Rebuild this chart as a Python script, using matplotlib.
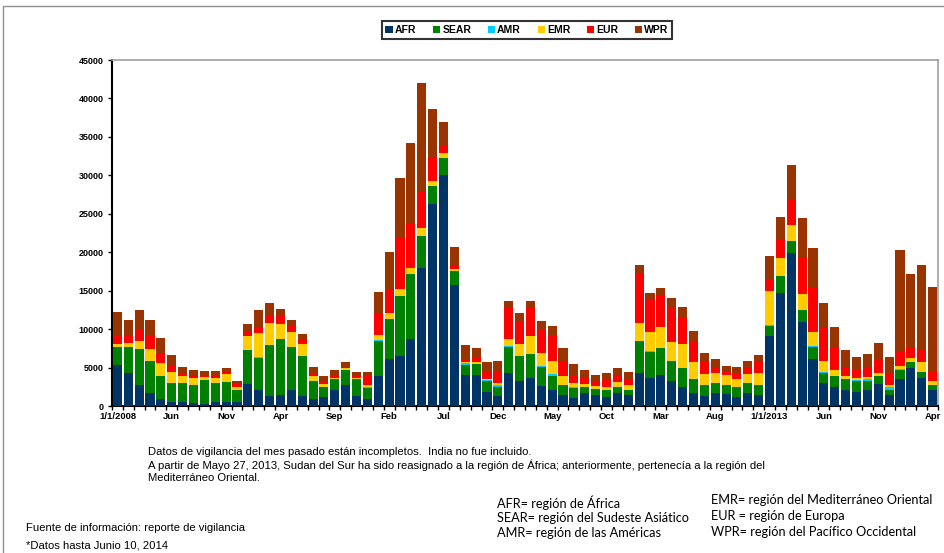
import matplotlib
matplotlib.use("Agg")
import matplotlib.pyplot as plt
import numpy as np
from matplotlib.patches import Patch, Rectangle
from matplotlib.ticker import FixedLocator

plt.rcParams["font.family"] = ["Liberation Sans", "DejaVu Sans"]

# monthly counts, Jan 2008 .. Apr 2014
afr = [5300, 4300, 2700, 1650, 860, 560, 560, 350, 260, 560, 560, 560,
       2900, 2070, 1320, 1470, 2070, 1320, 860, 1170, 2070, 2700, 1300, 870,
       3900, 6070, 6540, 8710, 17980, 26220, 30030, 15730, 4080, 4030, 1860, 1300,
       4250, 3250, 3680, 2640, 2080, 1430, 1080, 1650, 1430, 1130, 1650, 1430,
       4250, 3680, 4030, 3250, 2510, 1650, 1300, 1650, 1520, 1130, 1730, 1430,
       9100, 14730, 19930, 10880, 6100, 2950, 2510, 2080, 1860, 2080, 2860, 1430,
       3470, 4900, 3680, 2080]
sear = [2400, 3370, 4750, 4200, 3020, 2370, 2370, 2370, 3100, 2370, 2590, 1510,
        4400, 4220, 6570, 7190, 5600, 5150, 2420, 1240, 1420, 2000, 2170, 1430,
        4600, 5240, 7800, 8410, 4160, 2380, 2170, 1820, 1250, 1430, 1430, 1210,
        3460, 3250, 3030, 2470, 1860, 1300, 1220, 780, 740, 950, 780, 650,
        4240, 3390, 3470, 2640, 2390, 1820, 1430, 1300, 1210, 1300, 1220, 1300,
        1350, 2170, 1560, 1600, 1620, 1300, 1390, 1390, 1430, 1210, 1040, 650,
        1210, 780, 780, 650]
amr = [20, 20, 20, 20, 20, 20, 20, 20, 20, 20, 20, 20,
       20, 20, 20, 20, 20, 20, 20, 20, 20, 20, 50, 200,
       30, 30, 30, 30, 30, 30, 30, 30, 220, 30, 30, 220,
       30, 30, 30, 30, 220, 30, 210, 20, 20, 20, 20, 20,
       20, 20, 20, 20, 20, 20, 20, 20, 20, 20, 20, 20,
       20, 20, 20, 20, 20, 210, 20, 20, 150, 180, 20, 430,
       130, 20, 20, 20]
emr = [380, 540, 980, 1590, 1750, 1490, 930, 920, 410, 630, 970, 410,
       1780, 3170, 2910, 2010, 1920, 1610, 620, 490, 90, 230, 170, 230,
       700, 790, 800, 830, 930, 620, 620, 230, 210, 270, 190, 300,
       930, 1530, 2360, 1710, 1730, 1140, 440, 410, 410, 410, 620, 630,
       2240, 2580, 2800, 2370, 3140, 2190, 1370, 1360, 1280, 1020, 1150, 1500,
       4480, 2270, 2020, 2020, 1930, 1430, 760, 410, 240, 340, 410, 220,
       430, 580, 1200, 540]
eur = [1050, 870, 1590, 1640, 1250, 860, 430, 350, 220, 430, 300, 430,
       600, 650, 1030, 990, 780, 520, 430, 340, 340, 180, 340, 1300,
       2690, 3040, 6630, 5770, 4760, 2950, 990, 520, 330, 650, 950, 1430,
       4120, 3030, 3690, 3120, 3210, 1950, 1080, 820, 650, 960, 830, 740,
       6580, 4110, 3980, 4510, 3470, 2690, 1640, 790, 430, 690, 900, 1440,
       1560, 2390, 3250, 4810, 5840, 4210, 2820, 1000, 1000, 1300, 1780, 1520,
       1820, 1220, 1600, 1260]
wpr = [3100, 2150, 2460, 2150, 1980, 1380, 780, 730, 520, 520, 520, 300,
       1000, 2370, 1550, 970, 800, 680, 720, 630, 800, 530, 430, 430,
       2860, 4810, 7800, 10480, 14170, 6410, 3040, 2380, 1840, 1090, 1220, 1430,
       900, 1040, 900, 1120, 1340, 1650, 1430, 1000, 780, 780, 1000, 990,
       1000, 950, 1000, 1300, 1390, 1380, 1170, 950, 780, 860, 870, 940,
       3030, 2950, 4550, 5160, 4990, 3250, 2820, 2380, 1650, 1610, 2120, 2080,
       13220, 9620, 11050, 10960]

regions = ["AFR", "SEAR", "AMR", "EMR", "EUR", "WPR"]
colors = ["#003366", "#008000", "#00ccff", "#ffcc00", "#ff0000", "#993300"]
tick_labels = ["1/1/2008", "Jun", "Nov", "Apr", "Sep", "Feb", "Jul", "Dec",
               "May", "Oct", "Mar", "Aug", "1/1/2013", "Jun", "Nov", "Apr"]

series = [afr, sear, amr, emr, eur, wpr]
n = len(afr)
x = np.arange(n)

fig = plt.figure(figsize=(9.45, 5.53), dpi=100)
ax = fig.add_axes([112 / 945, 1 - 406 / 553, 826 / 945, 346 / 553])

bottom = np.zeros(n)
for vals, c in zip(series, colors):
    ax.bar(x, vals, 0.84, bottom=bottom, color=c, linewidth=0, zorder=3)
    bottom += np.array(vals)

ax.set_xlim(-0.5, n - 0.5)
ax.set_ylim(0, 45000)
ax.set_yticks(np.arange(0, 45001, 5000))
ax.set_yticklabels([str(v) for v in range(0, 45001, 5000)],
                   fontsize=6.5, fontweight="bold")
ax.set_xticks(np.arange(0, n, 5))
ax.set_xticklabels(tick_labels, fontsize=6.8, fontweight="bold")
ax.xaxis.set_minor_locator(FixedLocator(np.arange(-0.5, n, 1)))
ax.tick_params(axis="x", which="major", length=0, pad=4)
ax.tick_params(axis="x", which="minor", length=3, width=1, direction="out")
ax.tick_params(axis="y", length=3, width=1, direction="out", pad=3)

for s in ("left", "bottom"):
    ax.spines[s].set_color("black")
    ax.spines[s].set_linewidth(1.5)
for s in ("top", "right"):
    ax.spines[s].set_color("#a0a0a0")
    ax.spines[s].set_linewidth(1.2)

handles = [Patch(facecolor=c, edgecolor="none") for c in colors]
leg = fig.legend(handles, regions, loc="center", bbox_to_anchor=(527 / 945, 1 - 30 / 553),
                 ncol=6, frameon=True, fancybox=False,
                 handlelength=0.7, handleheight=0.7, handletextpad=0.2,
                 columnspacing=1.6, borderpad=0.35, prop={"weight": "bold", "size": 7.5})
leg.get_frame().set_edgecolor("black")
leg.get_frame().set_linewidth(1.5)

# outer chart frame
fig.add_artist(Rectangle((0.003, -0.01), 1.2, 1.0, transform=fig.transFigure,
                         fill=False, edgecolor="#909090", linewidth=1.0))

note = dict(fontsize=8.1, va="center", ha="left")
fig.text(148 / 945, 1 - 452 / 553,
         "Datos de vigilancia del mes pasado están incompletos.  India no fue incluido.", **note)
fig.text(148 / 945, 1 - 465 / 553,
         "A partir de Mayo 27, 2013, Sudan del Sur ha sido reasignado a la región de África; "
         "anteriormente, pertenecía a la región del", **note)
fig.text(148 / 945, 1 - 478 / 553, "Mediterráneo Oriental.", **note)

fig.text(26 / 945, 1 - 528 / 553, "Fuente de información: reporte de vigilancia", **note)
fig.text(26 / 945, 1 - 545 / 553, "*Datos hasta Junio 10, 2014", **note)

key = dict(fontsize=9.2, va="center", ha="left", family=["Lato", "DejaVu Sans"])
for i, t in enumerate(["AFR= región de África", "SEAR= región del Sudeste Asiático",
                       "AMR= región de las Américas"]):
    fig.text(497 / 945, 1 - (503 + 15 * i) / 553, t, **key)
for i, t in enumerate(["EMR= región del Mediterráneo Oriental", "EUR = región de Europa",
                       "WPR= región del Pacífico Occidental"]):
    fig.text(711 / 945, 1 - (500 + 16 * i) / 553, t, **key)

fig.savefig("out.png", dpi=100)
